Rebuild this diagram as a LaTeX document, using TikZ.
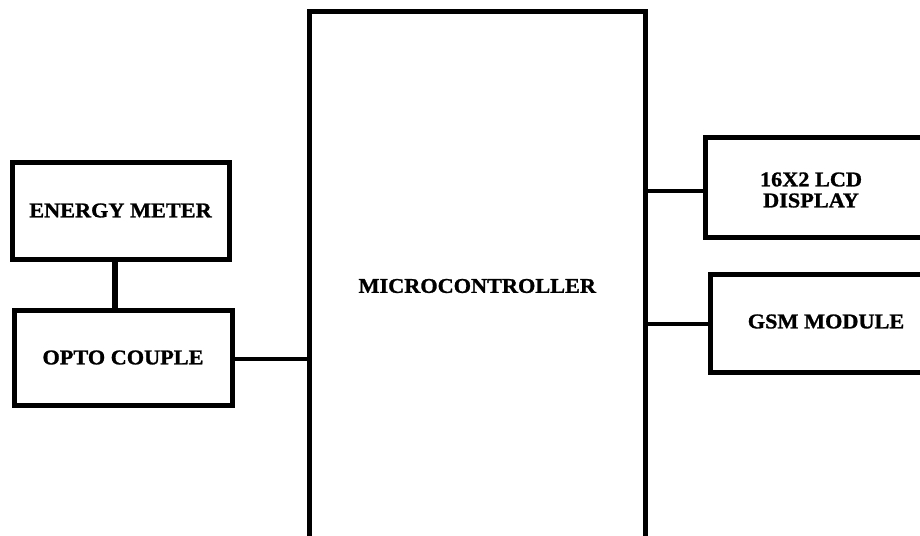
\documentclass[tikz,border=0pt]{standalone}
\usepackage{fontspec}
\setmainfont{Liberation Serif}
\newfontfamily\heavyfont{Liberation Serif Bold}[FakeBold=1.2,FakeStretch=1.06]
\begin{document}
\begin{tikzpicture}[x=1pt,y=-1pt,
  blk/.style={draw=black,line width=5pt,inner sep=0pt,fill=none,align=center,
    font=\heavyfont\fontsize{21}{21}\selectfont},
  lbl/.style={inner sep=0pt,align=center,font=\heavyfont\fontsize{21}{21}\selectfont},
  conn/.style={draw=black,line width=4pt},
  vconn/.style={draw=black,line width=5.5pt}]
\useasboundingbox (0,0) rectangle (920,535);
\clip (0,0) rectangle (920,535);
\fill[white] (0,0) rectangle (920,535);
\node[blk,minimum width=217pt,minimum height=97pt] (energy) at (120.5,210.5) {ENERGY METER};
\node[blk,minimum width=218pt,minimum height=95pt] (opto) at (123,357.5) {OPTO COUPLE};
\node[blk,minimum width=335.5pt,minimum height=548pt] (micro) at (477.25,286) {MICROCONTROLLER};
\node[blk,minimum width=234.5pt,minimum height=99.5pt] (lcd) at (822.75,187.25) {};
\node[blk,minimum width=234.5pt,minimum height=98pt] (gsm) at (827.75,323) {};
\node[lbl] (lcdtext) at (811,190) {16X2 LCD\\DISPLAY};
\node[lbl] (gsmtext) at (826,321.5) {GSM MODULE};
\draw[vconn] ([xshift=-5.5pt]energy.south) -- ([xshift=-5.5pt]energy.south |- opto.north);
\draw[conn] ([yshift=-1.5pt]opto.east) -- ([yshift=-1.5pt]opto.east -| micro.west);
\draw[conn] ([yshift=-3.5pt]lcd.west) -- ([yshift=-3.5pt]lcd.west -| micro.east);
\draw[conn] ([yshift=-1pt]gsm.west) -- ([yshift=-1pt]gsm.west -| micro.east);
\end{tikzpicture}
\end{document}
